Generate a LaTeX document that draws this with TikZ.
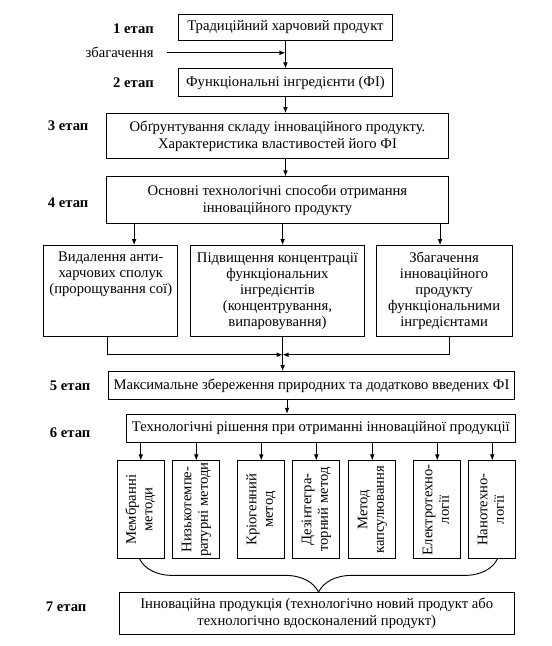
\documentclass[tikz,border=0pt]{standalone}
\usepackage{fontspec}
\setmainfont{Liberation Serif}
\usepackage{tikz}
\usetikzlibrary{calc}
\usetikzlibrary{positioning}
\usetikzlibrary{arrows.meta}
\usetikzlibrary{decorations.pathreplacing}

\newcommand{\vtxt}[1]{\rotatebox{90}{\begin{tabular}{@{}c@{}}#1\end{tabular}}}

\begin{document}
\begin{tikzpicture}[>={Latex[length=4.5pt,width=3.5pt]}, on grid, auto, line width=0.7pt,
        every node/.style={font=\fontsize{11}{13}\selectfont},
        box/.style={draw, inner sep=2pt, align=center},
        mid/.style={box, minimum height=68pt, font=\fontsize{11}{12}\selectfont},
        vbox/.style={draw, minimum width=35pt, minimum height=73pt, inner sep=1pt, font=\fontsize{11}{12.5}\selectfont},
        stg/.style={font=\fontsize{11}{13}\selectfont\bfseries}]

        \useasboundingbox (-214.1pt,20.6pt) rectangle (199.9pt,-463.9pt);

        \node[box, minimum width=160pt, minimum height=20pt] (b1) at (0,0) {Традиційний харчовий продукт};
        \node[box, minimum width=160pt, minimum height=21pt] (b2) [below=41.6pt of b1] {Функціональні інгредієнти (ФІ)};
        \node[box, minimum width=256.5pt, minimum height=34pt] (b3) [below=40pt of b2, xshift=-6pt]
          {Обґрунтування складу інноваційного продукту.\\Характеристика властивостей його ФІ};
        \node[box, minimum width=256.5pt, minimum height=35pt] (b4) [below=48pt of b3]
          {Основні технологічні способи отримання\\інноваційного продукту};

        \node[mid, minimum width=131pt] (bB) [below=68pt of b4]
          {Підвищення концентрації\\функціональних\\інгредієнтів\\(концентрування,\\випаровування)};
        \node[mid, minimum width=100.5pt] (bA) [left=125pt of bB]
          {Видалення анти-\\харчових сполук\\(пророщування сої)\\\strut\\\strut};
        \node[mid, minimum width=102pt] (bC) [right=125pt of bB]
          {Збагачення\\інноваційного\\продукту\\функціональними\\інгредієнтами};

        \node[box, minimum width=304.5pt, minimum height=21pt] (b5) [below=71pt of bB, xshift=25.5pt]
          {Максимальне збереження природних та додатково введених ФІ};
        \node[box, minimum width=292pt, minimum height=21pt] (b6) [below=32pt of b5, xshift=7pt]
          {Технологічні рішення при отриманні інноваційної продукції};

        \node[vbox] (s4) [below=61pt of b6, xshift=-3.4pt] {\vtxt{Дезінтегра-\\торний метод}};
        \node[vbox] (s3) [left=41.25pt of s4] {\vtxt{Кріогенний\\метод}};
        \node[vbox] (s2) [left=48.75pt of s3] {\vtxt{Низькотемпе-\\ратурні методи}};
        \node[vbox] (s1) [left=41.6pt of s2] {\vtxt{Мембранні\\методи}};
        \node[vbox] (s5) [right=42pt of s4] {\vtxt{Метод\\капсулювання}};
        \node[vbox] (s6) [right=48.75pt of s5] {\vtxt{Електротехно-\\логії}};
        \node[vbox] (s7) [right=41.25pt of s6] {\vtxt{Нанотехно-\\логії}};

        \node[box, minimum width=296pt, minimum height=31.5pt] (b7) [below=77.6pt of s4, xshift=0.4pt]
          {Інноваційна продукція (технологічно новий продукт або\\технологічно вдосконалений продукт)};

        \node[stg] (st1) [left=114pt of b1, yshift=-1pt] {1 етап};
        \node[stg] (st2) [left=114pt of b2] {2 етап};
        \node[stg] (st3) [left=157pt of b3, yshift=8pt] {3 етап};
        \node[stg] (st4) [left=157pt of b4, yshift=-2pt] {4 етап};
        \node[stg] (st5) [left=181pt of b5] {5 етап};
        \node[stg] (st6) [left=188pt of b6, yshift=-3pt] {6 етап};
        \node[stg] (st7) [left=188pt of b7, yshift=5pt] {7 етап};
        \node[] (zbg) [below=18pt of st1.east, anchor=east] {збагачення};

        \coordinate (t1) at ($(b4.south west)!0.082!(b4.south east)$);
        \coordinate (t2) at ($(b4.south west)!0.515!(b4.south east)$);
        \coordinate (t3) at ($(b4.south west)!0.974!(b4.south east)$);
        \coordinate (oA) at ($(bA.south west)!0.478!(bA.south east)$);
        \coordinate (oC) at ($(bC.south west)!0.537!(bC.south east)$);
        \coordinate (mrg) at ($(t2 |- bB.south)+(0,-13.5pt)$);
        \coordinate (t5) at ($(b5.south west)!0.44!(b5.south east)$);

        \draw[->] ([xshift=6pt]zbg.east) -- (zbg.east -| b1.south);
        \path[->]
          (b1) edge [] (b2)
          (b2.south) edge [] (b2.south |- b3.north)
          (b2.south |- b3.south) edge [] (b2.south |- b4.north)

          (t1) edge [] (t1 |- bA.north)
          (t2) edge [] (t2 |- bB.north)
          (t3) edge [] (t3 |- bC.north)
          (t2 |- bB.south) edge [] (t2 |- b5.north)
          (t5) edge [] (t5 |- b6.north)

          (s1.north |- b6.south) edge [] (s1)
          (s2.north |- b6.south) edge [] (s2)
          (s3.north |- b6.south) edge [] (s3)
          (s4.north |- b6.south) edge [] (s4)
          (s5.north |- b6.south) edge [] (s5)
          (s6.north |- b6.south) edge [] (s6)
          (s7.north |- b6.south) edge [] (s7);

        \draw[->] (oA) |- (mrg);
        \draw[->] (oC) |- (mrg);

        \draw[decorate, decoration={brace, mirror, amplitude=25pt}] ([xshift=-1pt]s1.south) -- ([xshift=4pt]s7.south);

      \end{tikzpicture}
\end{document}
